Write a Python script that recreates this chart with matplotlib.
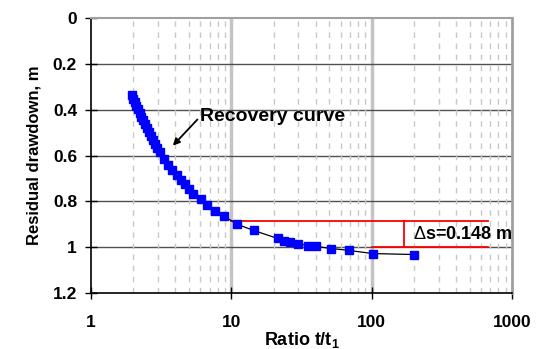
import matplotlib
matplotlib.use("Agg")
import matplotlib.pyplot as plt
from matplotlib.ticker import LogLocator, NullFormatter

plt.rcParams['font.family'] = ['Liberation Sans', 'DejaVu Sans']
plt.rcParams['mathtext.fontset'] = 'custom'
plt.rcParams['mathtext.bf'] = 'Liberation Sans:bold'
plt.rcParams['mathtext.rm'] = 'Liberation Sans'
plt.rcParams['mathtext.it'] = 'Liberation Sans:italic'

ratio = [1.95, 2.0, 2.05, 2.1, 2.16, 2.22, 2.28, 2.35, 2.42, 2.5, 2.58, 2.67, 2.76, 2.86, 2.97,
         3.10, 3.31, 3.55, 3.79, 4.07, 4.35, 4.67, 5.01, 5.35, 6.03, 6.72, 7.63, 8.85, 11.0,
         14.4, 21.4, 23.6, 26.0, 29.7, 35.0, 40.4, 51.6, 68.7, 101.8, 199.7]
drawdown = [0.338, 0.353, 0.368, 0.383, 0.399, 0.415, 0.431, 0.447, 0.463, 0.480, 0.497, 0.514,
            0.531, 0.549, 0.567, 0.586, 0.615, 0.640, 0.662, 0.684, 0.706, 0.725, 0.744, 0.766,
            0.791, 0.816, 0.842, 0.864, 0.900, 0.927, 0.962, 0.971, 0.979, 0.984, 0.993, 0.997,
            1.006, 1.014, 1.028, 1.032]

y_ticks = [0, 0.2, 0.4, 0.6, 0.8, 1.0, 1.2]
y_ticklabels = ['0', '0.2', '0.4', '0.6', '0.8', '1', '1.2']
x_ticks = [1, 10, 100, 1000]
x_ticklabels = ['1', '10', '100', '1000']

s_upper = 0.886
s_lower = 1.0
ds_label = '$\\mathrm{\\Delta}$s=0.148 m'

fig = plt.figure(figsize=(5.4, 3.49), dpi=100)
ax = fig.add_axes([91/540, 1-293/349, (512-91)/540, (293-18)/349])

ax.set_xscale('log')
ax.set_xlim(1, 1000)
ax.set_ylim(1.2, 0)

ax.set_yticks(y_ticks)
ax.set_yticklabels(y_ticklabels, fontweight='bold', fontsize=12.5)
ax.set_xticks(x_ticks)
ax.set_xticklabels(x_ticklabels, fontweight='bold', fontsize=12.5)
ax.xaxis.set_minor_locator(LogLocator(base=10, subs=range(2, 10)))
ax.xaxis.set_minor_formatter(NullFormatter())
ax.tick_params(axis='x', which='minor', length=0)
ax.tick_params(axis='both', which='major', direction='inout', length=8, width=1)
ax.tick_params(axis='y', which='major', pad=6)
ax.tick_params(axis='x', which='major', pad=12)

for yv in y_ticks[1:-1]:
    ax.axhline(yv, color='#505050', lw=1.0, zorder=1)
ax.xaxis.grid(True, which='minor', color='#c8c8c8', lw=1.0, ls=(0, (4, 4)), zorder=0)
for xv in [10, 100]:
    ax.axvline(xv, color='#c4c4c4', lw=2.5, zorder=0.5)

ax.spines['top'].set_color('#a0a0a0')
ax.spines['top'].set_linewidth(1.5)
ax.spines['right'].set_color('#a0a0a0')
ax.spines['right'].set_linewidth(2.0)
for side in ['left', 'bottom']:
    ax.spines[side].set_color('black')
    ax.spines[side].set_linewidth(1.2)

ax.plot(ratio, drawdown, color='black', lw=0.9, zorder=3)
ax.plot(ratio, drawdown, ls='none', marker='s', ms=5.4, color='#0000ff', mec='#0000ff', zorder=4)

ax.plot([10, 680], [s_upper, s_upper], color='red', lw=1.3, zorder=2)
ax.plot([100, 680], [s_lower, s_lower], color='red', lw=1.3, zorder=2)
ax.plot([170, 170], [s_upper, s_lower], color='red', lw=1.3, zorder=2)
ax.text(198, 0.943, ds_label, fontsize=13, fontweight='bold', va='center', ha='left', zorder=5,
        clip_on=False)

ax.annotate('Recovery curve', xy=(3.83, 0.557), xytext=(6.0, 0.43),
            fontsize=14, fontweight='bold', va='center', ha='left',
            arrowprops=dict(arrowstyle='-|>', color='black', lw=1.3, mutation_scale=10,
                            shrinkA=0, shrinkB=0, relpos=(0, 0.5)))

ax.set_xlabel('Ratio t/t$_\\mathbf{1}$', fontsize=13, fontweight='bold', labelpad=0)
ax.set_ylabel('Residual drawdown, m', fontsize=12, fontweight='bold', labelpad=8)

fig.savefig('out.png', dpi=100)
